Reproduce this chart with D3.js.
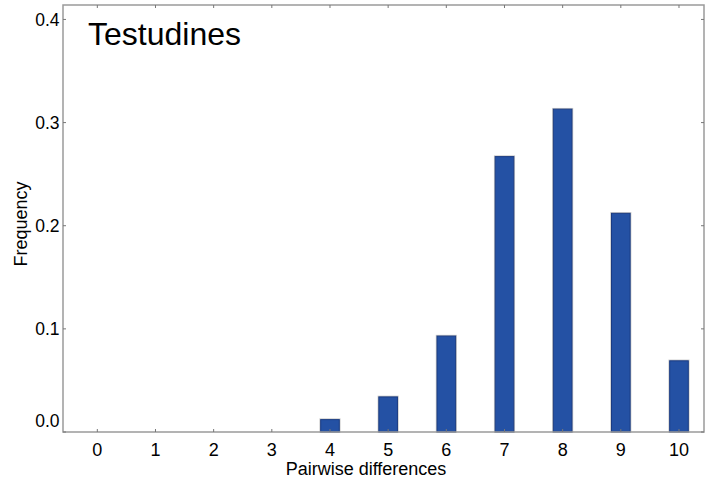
<!DOCTYPE html>
<html>
<head>
<meta charset="utf-8">
<script src="https://cdn.jsdelivr.net/npm/d3@7"></script>
<style>
  html, body { margin: 0; padding: 0; background: #fff; }
  svg { display: block; font-family: Arial, "Liberation Sans", Helvetica, sans-serif; }
</style>
</head>
<body>
<svg id="chart" width="707" height="486"></svg>
<script>
// Distribution of pairwise differences
const differences = [0, 1, 2, 3, 4, 5, 6, 7, 8, 9, 10];
const frequency   = [0, 0, 0, 0, 0.012, 0.034, 0.093, 0.267, 0.313, 0.212, 0.069];
const yTicks = [0.0, 0.1, 0.2, 0.3, 0.4];
const title = "Testudines";
const xTitle = "Pairwise differences";
const yTitle = "Frequency";

const svg = d3.select("#chart");
const plotL = 63, plotR = 704, plotT = 5, plotB = 432;
const frameColor = "#9a9a9a";

const x = d3.scaleLinear().domain([-0.59, 10.43]).range([plotL, plotR]);
const y = d3.scaleLinear().domain([0, 0.414]).range([plotB, plotT]);
const barW = (x(1) - x(0)) * 0.32;

// bars: light halo underneath, blue body with darker edge
const bars = svg.append("g");
differences.forEach((d, i) => {
  const v = frequency[i];
  if (v <= 0) return;
  const bx = x(d) - barW / 2, by = y(v), bh = y(0) - y(v);
  bars.append("rect")
    .attr("x", bx - 0.5).attr("y", by - 0.5)
    .attr("width", barW + 1).attr("height", bh + 0.5)
    .attr("fill", "none").attr("stroke", "#c8c8c8").attr("stroke-width", 1.5);
  bars.append("rect")
    .attr("x", bx).attr("y", by)
    .attr("width", barW).attr("height", bh)
    .attr("fill", "#2451a4").attr("stroke", "#1a3b82").attr("stroke-width", 1);
});

// frame
svg.append("rect")
  .attr("x", plotL).attr("y", plotT)
  .attr("width", plotR - plotL).attr("height", plotB - plotT)
  .attr("fill", "none").attr("stroke", frameColor).attr("stroke-width", 1.5);

// inward ticks on all four sides
const tickLen = 3;
const ticks = svg.append("g").attr("stroke", "#777").attr("stroke-width", 1);
differences.forEach(d => {
  ticks.append("line").attr("x1", x(d)).attr("x2", x(d)).attr("y1", plotB).attr("y2", plotB - tickLen);
  ticks.append("line").attr("x1", x(d)).attr("x2", x(d)).attr("y1", plotT).attr("y2", plotT + tickLen);
});
yTicks.forEach(t => {
  ticks.append("line").attr("x1", plotL).attr("x2", plotL + tickLen).attr("y1", y(t)).attr("y2", y(t));
  ticks.append("line").attr("x1", plotR).attr("x2", plotR - tickLen).attr("y1", y(t)).attr("y2", y(t));
});

// x tick labels
svg.append("g").selectAll("text").data(differences).join("text")
  .attr("x", d => x(d)).attr("y", 455.5)
  .attr("text-anchor", "middle").attr("font-size", 18).attr("fill", "#000")
  .text(d => d);

// y tick labels (the zero label sits just above the baseline)
svg.append("g").selectAll("text").data(yTicks).join("text")
  .attr("x", 59.5)
  .attr("y", d => d === 0 ? y(d) - 5.5 : y(d) + 6.5)
  .attr("text-anchor", "end").attr("font-size", 17.5).attr("fill", "#000")
  .text(d => d3.format(".1f")(d));

// axis titles
svg.append("text")
  .attr("x", 366).attr("y", 475)
  .attr("text-anchor", "middle").attr("font-size", 18).attr("fill", "#000")
  .text(xTitle);
svg.append("text")
  .attr("transform", "translate(27,224) rotate(-90)")
  .attr("text-anchor", "middle").attr("font-size", 18).attr("fill", "#000")
  .text(yTitle);

// panel title
svg.append("text")
  .attr("x", 88).attr("y", 45)
  .attr("font-size", 32).attr("fill", "#000")
  .text(title);
</script>
</body>
</html>
